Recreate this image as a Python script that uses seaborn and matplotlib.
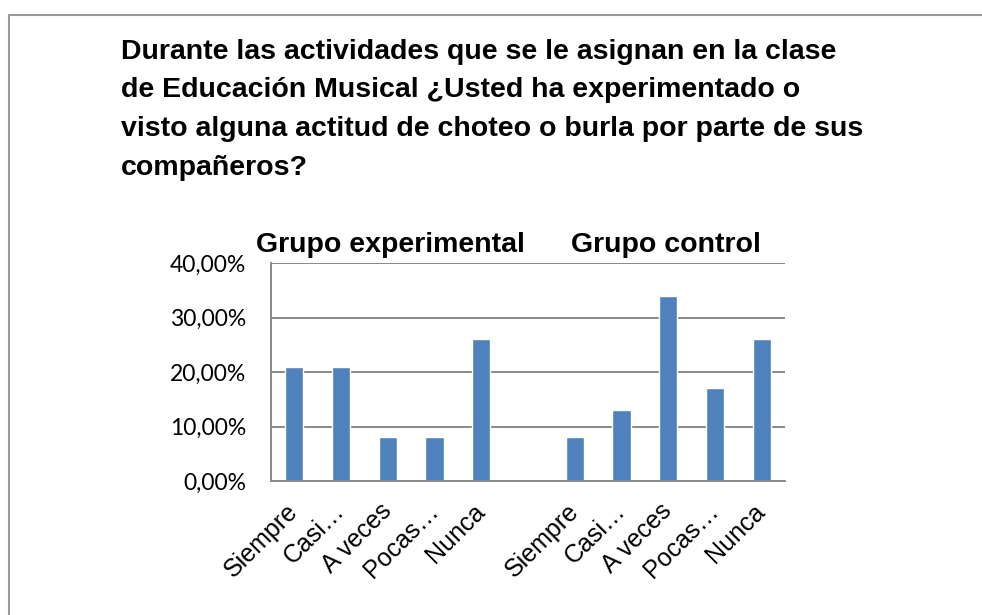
import numpy as np
import pandas as pd
import seaborn as sns
import matplotlib.pyplot as plt
from matplotlib.lines import Line2D

# answer categories and shares (%)
answers = ["Siempre", "Casi…", "A veces", "Pocas…", "Nunca"]
experimental = [21, 21, 8, 8, 26]
control = [8, 13, 34, 17, 26]
groups = ["Grupo experimental", "Grupo control"]

title_lines = [
    "Durante las actividades que se le asignan en la clase",
    "de Educación Musical ¿Usted ha experimentado o",
    "visto alguna actitud de choteo o burla por parte de sus",
    "compañeros?",
]

sns.set_style("white")
plt.rcParams["font.family"] = ["Liberation Sans", "DejaVu Sans"]
plt.rcParams["text.color"] = "black"
plt.rcParams["xtick.labelcolor"] = "black"
plt.rcParams["ytick.labelcolor"] = "black"

# one slot per bar, with an empty slot between the two groups
slots_e = [f"e_{a}" for a in answers]
slots_c = [f"c_{a}" for a in answers]
order = slots_e + ["gap"] + slots_c
df = pd.DataFrame({
    "slot": slots_e + slots_c,
    "value": experimental + control,
})

fig = plt.figure(figsize=(9.82, 6.15), dpi=100)
ax = fig.add_axes([271 / 982, 1 - 481 / 615, 514 / 982, 218 / 615])

sns.barplot(data=df, x="slot", y="value", order=order, color="#4F81BD",
            saturation=1, width=0.39, ax=ax, errorbar=None)

grid_c = "#888888"
ax.set_ylim(0, 40)
ax.set_xlim(-0.5, len(order) - 0.5)
ax.set_yticks([0, 10, 20, 30, 40])
ax.set_yticklabels([f"{v:.2f}%".replace(".", ",") for v in [0, 10, 20, 30, 40]],
                   fontfamily="Lato", fontsize=16.5)
ax.yaxis.grid(True, color=grid_c, linewidth=1.4)
ax.set_axisbelow(True)
ax.tick_params(axis="y", length=7, width=1.4, color=grid_c, pad=11)

# category labels at bar centres, tick marks at slot boundaries
ax.set_xticks(np.arange(len(order)))
ax.set_xticklabels(answers + [""] + answers, rotation=45, ha="right",
                   va="center", rotation_mode="anchor", fontsize=18)
ax.tick_params(axis="x", which="major", length=0, pad=19)
ax.set_xticks(np.arange(len(order) + 1) - 0.5, minor=True)
ax.tick_params(axis="x", which="minor", length=7, width=1.4, color=grid_c)

for side in ["top", "right"]:
    ax.spines[side].set_visible(False)
for side in ["left", "bottom"]:
    ax.spines[side].set_color(grid_c)
    ax.spines[side].set_linewidth(1.4)
ax.set_xlabel("")
ax.set_ylabel("")

# group headings above the plot
ax.text(2.05, 41.0, groups[0], ha="center", va="bottom", fontsize=20.5,
        fontweight="bold")
ax.text(7.95, 41.0, groups[1], ha="center", va="bottom", fontsize=20.5,
        fontweight="bold")

# title block
title_y = [59, 97, 136, 175]
for line, y in zip(title_lines, title_y):
    fig.text(121 / 982, 1 - y / 615, line, ha="left", va="baseline",
             fontsize=20.5, fontweight="bold")

# chart frame
fx = 9 / 982
fy = 1 - 15 / 615
fig.add_artist(Line2D([fx, fx, 1.0], [0.0, fy, fy], transform=fig.transFigure,
                      color="#999999", linewidth=1.5))

fig.savefig("out.png", dpi=100)
